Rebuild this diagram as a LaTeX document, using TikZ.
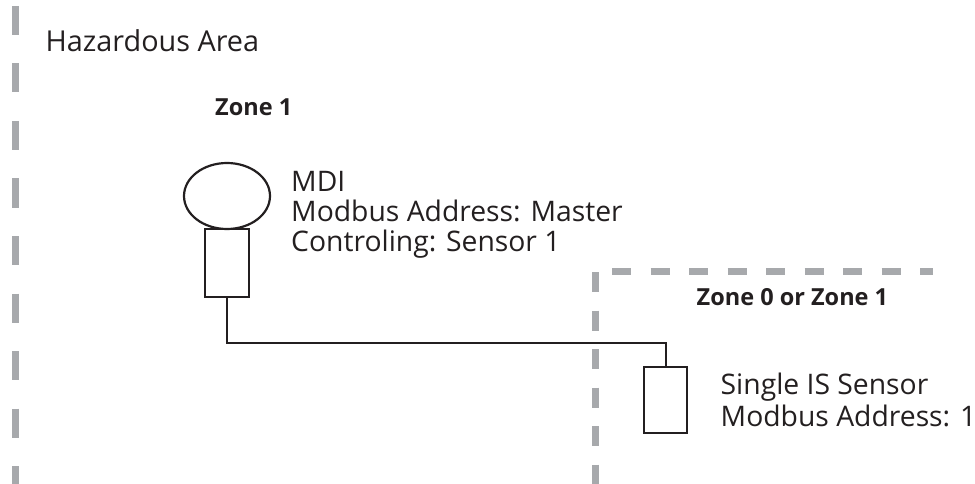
\documentclass[tikz,border=0pt]{standalone}
\usepackage{fontspec}
\setmainfont{Open Sans}
\usetikzlibrary{shapes.geometric}
\definecolor{zonegrey}{HTML}{A7A9AC}
\definecolor{ink}{HTML}{231F20}
\begin{document}
\begin{tikzpicture}[x=1pt,y=-1pt,
  zoneline/.style={draw=zonegrey,line width=7pt,line cap=butt},
  part/.style={draw=ink,line width=2.2pt,inner sep=0pt},
  wire/.style={draw=ink,line width=2pt},
  lbl/.style={anchor=base west,inner sep=0pt,text=ink,font=\fontsize{28.3}{33}\selectfont},
  zonelbl/.style={anchor=base west,inner sep=0pt,text=ink,font=\bfseries\fontsize{23.5}{27}\selectfont}]
\useasboundingbox (0,0) rectangle (975,484);
% zone boundaries
\draw[zoneline,dash pattern=on 29pt off 28.5pt] (15,6) -- (15,484);
\draw[zoneline,dash pattern=on 20pt off 18.5pt] (595,272) -- (595,484);
\draw[zoneline,dash pattern=on 19pt off 19.5pt] (612,271.5) -- (933,271.5);
% labels
\node[lbl,font=\fontsize{28.8}{33}\selectfont] (haz) at (45.5,52) {Hazardous Area};
\node[zonelbl] (zone1) at (215,116) {Zone 1};
\node[zonelbl] (zone01) at (696.5,305) {Zone 0 or Zone 1};
\node[lbl] (mdi1) at (291,192) {MDI};
\node[lbl] (mdi2) at (291,221.5) {Modbus Address: Master};
\node[lbl] (mdi3) at (291,251) {Controling: Sensor 1};
\node[lbl] (sen1) at (720.5,394.5) {Single IS Sensor};
\node[lbl] (sen2) at (720.5,426) {Modbus Address: 1};
% devices
\node[part,ellipse,minimum width=86pt,minimum height=66pt] (mdihead) at (227,196) {};
\node[part,rectangle,minimum width=44pt,minimum height=68pt] (mdibody) at (227,263) {};
\node[part,rectangle,minimum width=43pt,minimum height=66pt] (sensor) at (665.5,400) {};
\coordinate (bend) at (665.5,343);
\draw[wire] (mdibody.south) |- (bend) -- (sensor.north);
\end{tikzpicture}
\end{document}
